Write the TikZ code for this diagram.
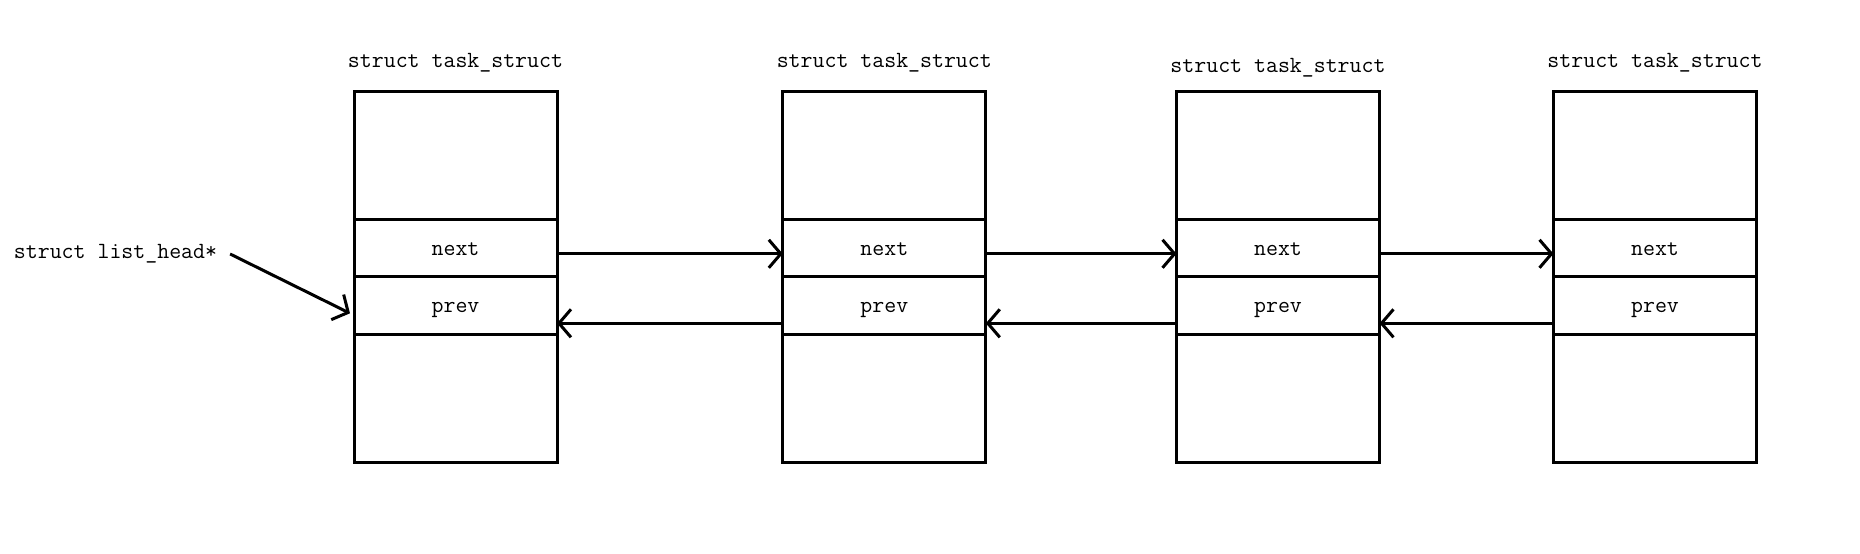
\documentclass[tikz,border=0pt]{standalone}
\usetikzlibrary{arrows.meta,positioning}

\begin{document}
\begin{tikzpicture}[x=0.5pt,y=0.5pt,
  lbl/.style={font=\ttfamily\fontsize{11.6}{13}\selectfont},
  cell/.style={lbl,draw,line width=1.5pt,minimum width=101.5pt,outer sep=0pt,inner sep=0pt,text height=2.1ex,text depth=0.4ex},
  bigcell/.style={cell,minimum height=64pt},
  ptr/.style={line width=1.5pt,-{Straight Barb[length=6pt,width=14pt]}}]
\useasboundingbox (0,0) rectangle (1860,553);
\foreach \n/\x/\h in {1/455.5/14.5,2/884.3/14.5,3/1278/11.8,4/1655/14.5}{
  \node[bigcell,anchor=north] (top\n) at (\x,461.7) {};
  \node[cell,minimum height=28.5pt,below=0pt of top\n] (next\n) {next};
  \node[cell,minimum height=29pt,below=0pt of next\n] (prev\n) {prev};
  \node[bigcell,below=0pt of prev\n] (bot\n) {};
  \node[lbl] (title\n) at ([yshift=\h pt]top\n.north) {struct task\_struct};
}
\foreach \a/\b in {1/2,2/3,3/4}{
  \draw[ptr] ([yshift=-3pt]next\a.east) -- ([yshift=-3pt]next\b.west);
  \draw[ptr] ([yshift=-9pt]prev\b.west) -- ([yshift=-9pt]prev\a.east);
}
\node[lbl] (head) at (115.5,299) {struct list\_head*};
\draw[ptr] ([xshift=3pt]head.east) -- ([xshift=-2pt,yshift=-4pt]prev1.west);
\end{tikzpicture}
\end{document}
